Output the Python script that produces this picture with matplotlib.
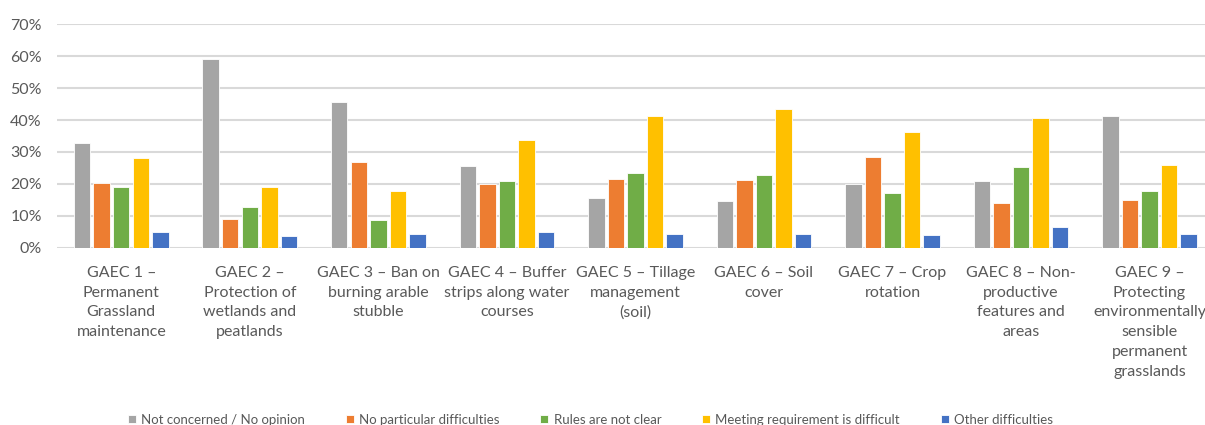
import matplotlib
matplotlib.use("Agg")
import matplotlib.pyplot as plt
import numpy as np
from matplotlib.ticker import PercentFormatter

categories = [
    "GAEC 1 –\nPermanent\nGrassland\nmaintenance",
    "GAEC 2 –\nProtection of\nwetlands and\npeatlands",
    "GAEC 3 – Ban on\nburning arable\nstubble",
    "GAEC 4 – Buffer\nstrips along water\ncourses",
    "GAEC 5 – Tillage\nmanagement\n(soil)",
    "GAEC 6 – Soil\ncover",
    "GAEC 7 – Crop\nrotation",
    "GAEC 8 – Non-\nproductive\nfeatures and\nareas",
    "GAEC 9 –\nProtecting\nenvironmentally\nsensible\npermanent\ngrasslands",
]
series_names = [
    "Not concerned / No opinion",
    "No particular difficulties",
    "Rules are not clear",
    "Meeting requirement is difficult",
    "Other difficulties",
]
not_concerned = [32.7, 59.1, 45.6, 25.7, 15.6, 14.8, 19.9, 20.9, 41.2]
no_difficulties = [20.4, 9.0, 26.9, 19.9, 21.6, 21.2, 28.3, 14.0, 15.1]
rules_unclear = [19.2, 12.7, 8.6, 20.9, 23.3, 22.8, 17.1, 25.4, 17.7]
meeting_difficult = [28.0, 19.2, 17.7, 33.8, 41.2, 43.3, 36.2, 40.7, 25.9]
other_difficulties = [5.1, 3.7, 4.3, 5.1, 4.5, 4.5, 4.2, 6.5, 4.5]
yticks = [0, 10, 20, 30, 40, 50, 60, 70]

series = [not_concerned, no_difficulties, rules_unclear, meeting_difficult, other_difficulties]
colors = ["#A5A5A5", "#ED7D31", "#70AD47", "#FFC000", "#4472C4"]

plt.rcParams['font.family'] = ['Lato', 'DejaVu Sans']
txt = "#595959"

fig = plt.figure(figsize=(12.05, 4.25), dpi=100)
ax = fig.add_axes([0.0473, 0.4165, 0.960, 0.527])

x = np.arange(len(categories))
pitch = 0.152
width = 0.128
for i, (vals, c, name) in enumerate(zip(series, colors, series_names)):
    ax.bar(x + (i - 2) * pitch, np.array(vals) / 100, width=width, color=c,
           edgecolor="white", linewidth=0.6, label=name, zorder=3)

ax.set_xlim(-0.5, len(categories) - 0.5)
ax.set_ylim(0, 0.7)
ax.set_yticks(np.array(yticks) / 100)
ax.yaxis.set_major_formatter(PercentFormatter(1.0, decimals=0))
ax.grid(axis="y", color="#D9D9D9", linewidth=1.5, zorder=0)
for s in ax.spines.values():
    s.set_visible(False)
ax.tick_params(axis="y", length=0, pad=11, labelsize=11.5, labelcolor=txt)
ax.set_xticks(x)
ax.set_xticklabels(categories, fontsize=11.5, color=txt, linespacing=1.52)
ax.tick_params(axis="x", length=0, pad=13)

leg = fig.legend(loc="center", bbox_to_anchor=(0.49, 0.012), ncol=5, frameon=False,
                 fontsize=9.5, handlelength=0.6, handleheight=0.6, handletextpad=0.4,
                 columnspacing=3.1, labelcolor=txt)

fig.savefig("out.png", dpi=100)
